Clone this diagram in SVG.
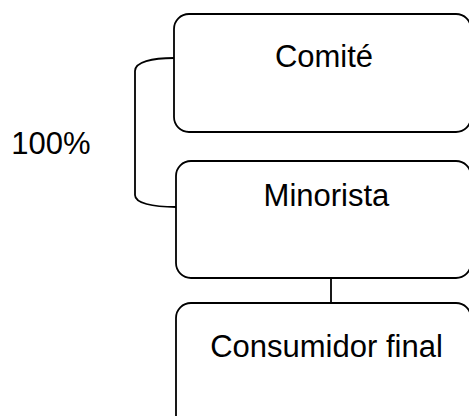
<svg xmlns="http://www.w3.org/2000/svg" width="469" height="416" viewBox="0 0 469 416">
<style>
.box{fill:#fff;stroke:#000;stroke-width:1.8}
.lbl{font-family:"Liberation Sans",Arial,sans-serif;font-size:31px;fill:#000;text-anchor:middle}
.con{fill:none;stroke:#000;stroke-width:1.8}
</style>
<rect width="469" height="416" fill="#fff"/>
<g id="connectors">
<path class="con" d="M174,58 C152,58 135,62 135,71 V195 C135,203 152,207 176,207"/>
<line class="con" x1="331" y1="278" x2="331" y2="303"/>
</g>
<g id="label-100">
<text class="lbl" x="51" y="154">100%</text>
</g>
<g id="node-comite">
<rect class="box" x="174" y="14" width="297" height="118" rx="15" ry="15"/>
<text class="lbl" x="324" y="67">Comité</text>
</g>
<g id="node-minorista">
<rect class="box" x="176" y="161" width="295" height="117" rx="15" ry="15"/>
<text class="lbl" x="326.5" y="206">Minorista</text>
</g>
<g id="node-consumidor">
<rect class="box" x="176" y="303" width="295" height="130" rx="15" ry="15"/>
<text class="lbl" x="326.5" y="357">Consumidor final</text>
</g>
</svg>
